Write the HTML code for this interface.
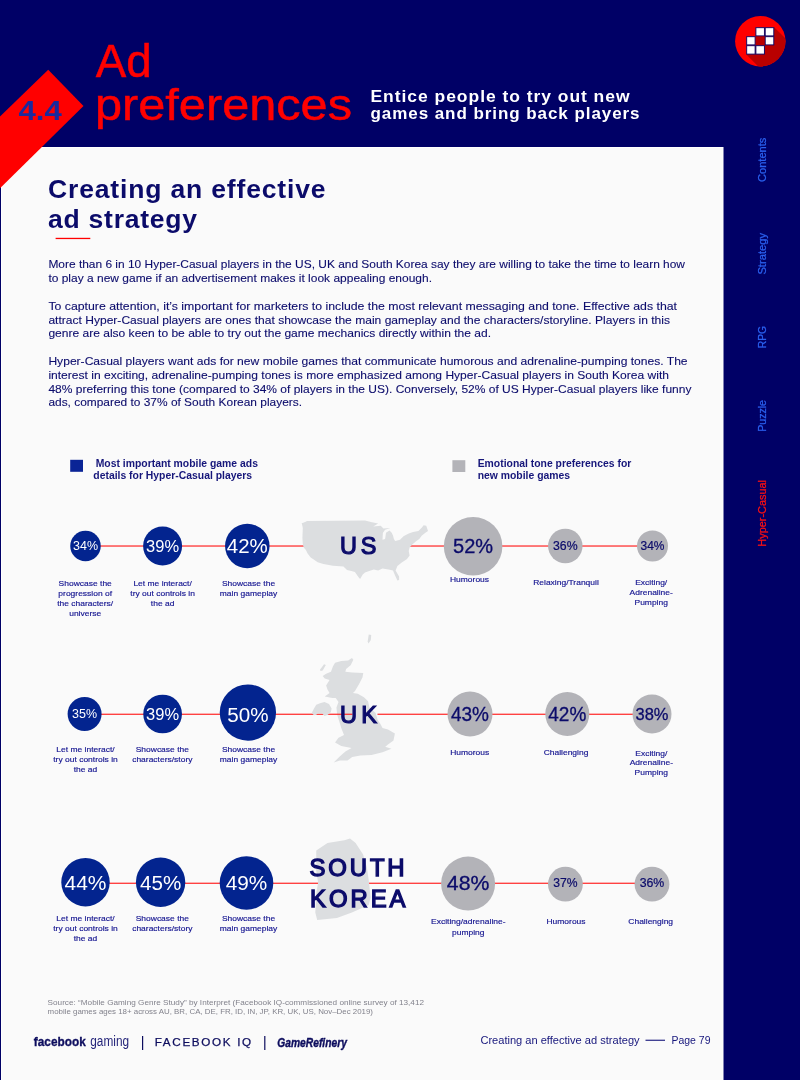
<!DOCTYPE html>
<html><head><meta charset="utf-8"><style>
html,body{margin:0;padding:0;width:800px;height:1080px;overflow:hidden;background:#000066}
svg{display:block;will-change:transform;font-family:"Liberation Sans",sans-serif}
</style></head><body>
<svg width="800" height="1080" viewBox="0 0 800 1080">
<rect x="0" y="0" width="800" height="1080" fill="#000066"/>
<rect x="1" y="147" width="722.5" height="940" fill="#ffffff"/>
<rect x="2" y="148" width="720.5" height="940" fill="#fafafa"/>
<polygon points="0,116.5 48.2,69.7 83.5,106 0,188.2" fill="#ff0000"/>
<text x="18.5" y="119.7" font-size="27.2" fill="#1a2a9e" font-weight="bold" textLength="43.3" lengthAdjust="spacingAndGlyphs">4.4</text>
<text x="95.8" y="76.5" font-size="46.5" fill="#ff0000" textLength="56" lengthAdjust="spacingAndGlyphs" stroke="#ff0000" stroke-width="0.5">Ad</text>
<text x="95" y="119.6" font-size="44.5" fill="#ff0000" textLength="257" lengthAdjust="spacingAndGlyphs" stroke="#ff0000" stroke-width="0.5">preferences</text>
<text x="370.5" y="102.2" font-size="16.3" fill="#ffffff" font-weight="bold" textLength="260" lengthAdjust="spacingAndGlyphs" letter-spacing="0.9">Entice people to try out new</text>
<text x="370.5" y="119.0" font-size="16.3" fill="#ffffff" font-weight="bold" textLength="270" lengthAdjust="spacingAndGlyphs" letter-spacing="0.9">games and bring back players</text>
<defs><clipPath id="lc"><circle cx="760.3" cy="41.2" r="25.2"/></clipPath></defs>
<circle cx="760.3" cy="41.2" r="25.2" fill="#ff0000"/>
<polygon clip-path="url(#lc)" points="774.2,27.3 834.2,87.3 806.3,114.5 746.3,54.5" fill="#b90000"/>
<rect x="755.5" y="36.3" width="9.299999999999955" height="9.0" fill="#b90000"/>
<rect x="755.9" y="27.7" width="8.499999999999954" height="8.199999999999996" fill="#ffffff" stroke="#000066" stroke-width="0.9"/>
<rect x="765.1999999999999" y="27.7" width="8.60000000000009" height="8.199999999999996" fill="#ffffff" stroke="#000066" stroke-width="0.9"/>
<rect x="746.6999999999999" y="36.699999999999996" width="8.400000000000045" height="8.2" fill="#ffffff" stroke="#000066" stroke-width="0.9"/>
<rect x="765.1999999999999" y="36.699999999999996" width="8.60000000000009" height="8.2" fill="#ffffff" stroke="#000066" stroke-width="0.9"/>
<rect x="746.6999999999999" y="45.699999999999996" width="8.400000000000045" height="8.400000000000002" fill="#ffffff" stroke="#000066" stroke-width="0.9"/>
<rect x="755.9" y="45.699999999999996" width="8.499999999999954" height="8.400000000000002" fill="#ffffff" stroke="#000066" stroke-width="0.9"/>
<text transform="translate(766,182) rotate(-90)" font-size="10" fill="#2a60f0" textLength="44.4" lengthAdjust="spacingAndGlyphs" stroke="#2a60f0" stroke-width="0.25">Contents</text>
<text transform="translate(766,274.6) rotate(-90)" font-size="10" fill="#2a60f0" textLength="41.6" lengthAdjust="spacingAndGlyphs" stroke="#2a60f0" stroke-width="0.25">Strategy</text>
<text transform="translate(766,348.2) rotate(-90)" font-size="10" fill="#2a60f0" textLength="22.2" lengthAdjust="spacingAndGlyphs" stroke="#2a60f0" stroke-width="0.25">RPG</text>
<text transform="translate(766,431.8) rotate(-90)" font-size="10" fill="#2a60f0" textLength="31.8" lengthAdjust="spacingAndGlyphs" stroke="#2a60f0" stroke-width="0.25">Puzzle</text>
<text transform="translate(766,546.7) rotate(-90)" font-size="10" fill="#ff1010" textLength="66.7" lengthAdjust="spacingAndGlyphs" stroke="#ff1010" stroke-width="0.25">Hyper-Casual</text>
<text x="48" y="197.5" font-size="26.5" fill="#0b0b6a" font-weight="bold" textLength="277.5" lengthAdjust="spacing">Creating an effective</text>
<text x="48" y="228.3" font-size="26.5" fill="#0b0b6a" font-weight="bold" textLength="149" lengthAdjust="spacing">ad strategy</text>
<rect x="55.6" y="237.8" width="34.7" height="1.3" fill="#ff0000"/>
<text x="48.4" y="268.4" font-size="11" fill="#0c0c6c" textLength="636.6" lengthAdjust="spacingAndGlyphs" stroke="#0c0c6c" stroke-width="0.1">More than 6 in 10 Hyper-Casual players in the US, UK and South Korea say they are willing to take the time to learn how</text>
<text x="48.4" y="282.2" font-size="11" fill="#0c0c6c" textLength="383.6" lengthAdjust="spacingAndGlyphs" stroke="#0c0c6c" stroke-width="0.1">to play a new game if an advertisement makes it look appealing enough.</text>
<text x="48.4" y="309.8" font-size="11" fill="#0c0c6c" textLength="628.6" lengthAdjust="spacingAndGlyphs" stroke="#0c0c6c" stroke-width="0.1">To capture attention, it’s important for marketers to include the most relevant messaging and tone. Effective ads that</text>
<text x="48.4" y="323.6" font-size="11" fill="#0c0c6c" textLength="621.6" lengthAdjust="spacingAndGlyphs" stroke="#0c0c6c" stroke-width="0.1">attract Hyper-Casual players are ones that showcase the main gameplay and the characters/storyline. Players in this</text>
<text x="48.4" y="337.4" font-size="11" fill="#0c0c6c" textLength="442.6" lengthAdjust="spacingAndGlyphs" stroke="#0c0c6c" stroke-width="0.1">genre are also keen to be able to try out the game mechanics directly within the ad.</text>
<text x="48.4" y="365.0" font-size="11" fill="#0c0c6c" textLength="639.2" lengthAdjust="spacingAndGlyphs" stroke="#0c0c6c" stroke-width="0.1">Hyper-Casual players want ads for new mobile games that communicate humorous and adrenaline-pumping tones. The</text>
<text x="48.4" y="378.8" font-size="11" fill="#0c0c6c" textLength="620.6" lengthAdjust="spacingAndGlyphs" stroke="#0c0c6c" stroke-width="0.1">interest in exciting, adrenaline-pumping tones is more emphasized among Hyper-Casual players in South Korea with</text>
<text x="48.4" y="392.6" font-size="11" fill="#0c0c6c" textLength="643.0" lengthAdjust="spacingAndGlyphs" stroke="#0c0c6c" stroke-width="0.1">48% preferring this tone (compared to 34% of players in the US). Conversely, 52% of US Hyper-Casual players like funny</text>
<text x="48.4" y="406.4" font-size="11" fill="#0c0c6c" textLength="253.6" lengthAdjust="spacingAndGlyphs" stroke="#0c0c6c" stroke-width="0.1">ads, compared to 37% of South Korean players.</text>
<rect x="70.2" y="459.8" width="12.8" height="12" fill="#0a2496"/>
<text x="95.7" y="466.5" font-size="10.4" fill="#16167a" font-weight="bold">Most important mobile game ads</text>
<text x="93.3" y="478.5" font-size="10.4" fill="#16167a" font-weight="bold">details for Hyper-Casual players</text>
<rect x="452.4" y="460.2" width="12.9" height="11.8" fill="#b3b3b8"/>
<text x="477.7" y="467.4" font-size="10.4" fill="#16167a" font-weight="bold">Emotional tone preferences for</text>
<text x="477.7" y="479.2" font-size="10.4" fill="#16167a" font-weight="bold">new mobile games</text>
<rect x="85" y="545.4" width="568" height="1.25" fill="#ff2e2e"/>
<polygon points="301.5,523.3 303.2,522.7 306.3,521.6 306.75,521 365,520.5 372,522.25 378.1,523.6 373.3,526.6 380.75,525.75 383.4,528.4 390.4,528 385.1,529.7 382.9,532.75 382.5,539.75 385.1,538.9 386,532.75 389.5,530.6 391.7,532.75 393,535.4 393.9,538.9 395.2,541 400,539.75 403.5,536.25 408.75,533.6 413.1,531.9 418.4,531 421.9,527.5 423.6,525.3 426.25,525.75 428,531 425.4,532.75 421.9,535.4 419.25,538.9 415.75,541.5 412.25,544.6 409.6,547.6 408.75,551.1 409.6,555.5 407,559 401.75,562.5 397.4,566 395.6,570.4 399.1,576.5 399.1,580 397.4,580.4 394.75,574.75 393,570.4 388.6,569.5 382.5,568.6 378.1,570.4 373.75,569.5 368.5,571.25 365,572.5 362.75,574.5 360.1,578.9 358.4,577.1 354.9,571.9 351.4,571 347,570 343.5,566.6 333,565.75 323.4,564 317.7,562.25 313.75,559.6 310.7,557.4 307.6,553.5 305.9,550 303.7,547.4 302.8,543.9 302.4,537.75 302.8,528.1 301.9,523.75" fill="#dcdee0"/>
<text x="340.0" y="553.7" font-size="23.4" fill="#0b0b6a" textLength="36.4" lengthAdjust="spacing" stroke="#0b0b6a" stroke-width="1.2">US</text>
<circle cx="85.5" cy="546" r="15.25" fill="#03248f"/>
<text x="85.5" y="550.35" font-size="11.93" fill="#ffffff" text-anchor="middle" textLength="25" lengthAdjust="spacingAndGlyphs">34%</text>
<circle cx="162.6" cy="546" r="19.5" fill="#03248f"/>
<text x="162.6" y="552.25" font-size="17.15" fill="#ffffff" text-anchor="middle" textLength="33" lengthAdjust="spacingAndGlyphs">39%</text>
<circle cx="247.3" cy="546" r="22.25" fill="#03248f"/>
<text x="247.3" y="553.1" font-size="19.48" fill="#ffffff" text-anchor="middle" textLength="41" lengthAdjust="spacingAndGlyphs">42%</text>
<circle cx="473.1" cy="546.2" r="29.3" fill="#b3b3b8"/>
<text x="473.1" y="553.3" font-size="19.48" fill="#0b0b6a" text-anchor="middle" textLength="40" lengthAdjust="spacingAndGlyphs" stroke="#0b0b6a" stroke-width="0.3">52%</text>
<circle cx="565.3" cy="546" r="17.25" fill="#b3b3b8"/>
<text x="565.3" y="550.35" font-size="11.93" fill="#0b0b6a" text-anchor="middle" textLength="24.6" lengthAdjust="spacingAndGlyphs" stroke="#0b0b6a" stroke-width="0.2">36%</text>
<circle cx="652.5" cy="546" r="15.5" fill="#b3b3b8"/>
<text x="652.5" y="550.35" font-size="11.93" fill="#0b0b6a" text-anchor="middle" textLength="24" lengthAdjust="spacingAndGlyphs" stroke="#0b0b6a" stroke-width="0.2">34%</text>
<g transform="translate(85.2,0) scale(1.06,1)">
<text x="0" y="585.8" font-size="8.0" fill="#141490" text-anchor="middle" stroke="#141490" stroke-width="0.16">Showcase the</text>
<text x="0" y="595.8" font-size="8.0" fill="#141490" text-anchor="middle" stroke="#141490" stroke-width="0.16">progression of</text>
<text x="0" y="605.8" font-size="8.0" fill="#141490" text-anchor="middle" stroke="#141490" stroke-width="0.16">the characters/</text>
<text x="0" y="615.8" font-size="8.0" fill="#141490" text-anchor="middle" stroke="#141490" stroke-width="0.16">universe</text>
</g>
<g transform="translate(162.6,0) scale(1.06,1)">
<text x="0" y="585.8" font-size="8.0" fill="#141490" text-anchor="middle" stroke="#141490" stroke-width="0.16">Let me interact/</text>
<text x="0" y="595.8" font-size="8.0" fill="#141490" text-anchor="middle" stroke="#141490" stroke-width="0.16">try out controls in</text>
<text x="0" y="605.8" font-size="8.0" fill="#141490" text-anchor="middle" stroke="#141490" stroke-width="0.16">the ad</text>
</g>
<g transform="translate(248.5,0) scale(1.06,1)">
<text x="0" y="585.8" font-size="8.0" fill="#141490" text-anchor="middle" stroke="#141490" stroke-width="0.16">Showcase the</text>
<text x="0" y="595.8" font-size="8.0" fill="#141490" text-anchor="middle" stroke="#141490" stroke-width="0.16">main gameplay</text>
</g>
<g transform="translate(469.5,0) scale(1.06,1)">
<text x="0" y="582.3" font-size="8.0" fill="#141490" text-anchor="middle" stroke="#141490" stroke-width="0.16">Humorous</text>
</g>
<g transform="translate(566,0) scale(1.06,1)">
<text x="0" y="585.2" font-size="8.0" fill="#141490" text-anchor="middle" stroke="#141490" stroke-width="0.16">Relaxing/Tranquil</text>
</g>
<g transform="translate(651.2,0) scale(1.06,1)">
<text x="0" y="585.2" font-size="8.0" fill="#141490" text-anchor="middle" stroke="#141490" stroke-width="0.16">Exciting/</text>
<text x="0" y="595.0" font-size="8.0" fill="#141490" text-anchor="middle" stroke="#141490" stroke-width="0.16">Adrenaline-</text>
<text x="0" y="604.8" font-size="8.0" fill="#141490" text-anchor="middle" stroke="#141490" stroke-width="0.16">Pumping</text>
</g>
<polygon points="335.06,662.81 341.25,661.02 348.12,660.48 351.98,658.0 353.35,659.65 350.6,665.15 346.06,669.0 345.38,671.75 352.25,672.44 363.25,673.12 362.56,677.25 359.12,684.12 355.0,691.0 352.94,693.06 357.75,693.75 363.94,697.19 368.06,701.31 369.44,707.5 375.62,713.0 377.69,719.88 380.44,724.0 382.5,728.12 388.0,729.5 394.88,733.62 393.5,740.5 388.0,744.62 385.25,746.69 391.44,748.75 382.5,752.19 371.5,754.94 360.5,755.62 352.25,757.0 347.44,760.44 339.88,760.44 333.69,762.5 339.19,757.0 345.38,751.5 351.56,748.06 341.25,746.0 335.06,742.56 338.5,737.75 344.0,735.0 341.25,728.12 339.19,721.25 337.12,714.38 336.44,707.5 338.5,702.0 335.75,697.88 332.31,697.88 324.75,696.5 329.56,693.06 327.5,689.62 326.12,685.5 329.56,680.0 324.75,678.62 322.69,675.88 326.12,673.81 330.94,671.75 333.0,666.25" fill="#dcdee0"/>
<polygon points="368.75,634.62 371.23,634.9 370.81,640.12 368.48,643.56 367.65,641.5" fill="#dcdee0"/>
<polygon points="319.94,669.69 324.06,664.19 325.85,664.88 322.69,670.38 320.62,671.06" fill="#dcdee0"/>
<rect x="85" y="713.65" width="267.5" height="1.25" fill="#ff2e2e"/>
<rect x="377.5" y="713.65" width="275.5" height="1.25" fill="#ff2e2e"/>
<polygon points="311.75,713.0 314.0,715.25 316.25,714.65 317.75,713.38 322.25,713.6 324.5,716.0 327.5,714.88 330.88,712.25 331.62,708.5 329.0,704.0 324.5,702.12 320.0,703.25 316.25,704.75 314.0,708.5" fill="#dcdee0"/>
<text x="339.9" y="722.55" font-size="23.6" fill="#0b0b6a" textLength="37.2" lengthAdjust="spacing" stroke="#0b0b6a" stroke-width="1.2">UK</text>
<circle cx="84.6" cy="714" r="17.0" fill="#03248f"/>
<text x="84.6" y="718.35" font-size="11.93" fill="#ffffff" text-anchor="middle" textLength="25" lengthAdjust="spacingAndGlyphs">35%</text>
<circle cx="162.6" cy="714" r="19.35" fill="#03248f"/>
<text x="162.6" y="720.25" font-size="17.15" fill="#ffffff" text-anchor="middle" textLength="33" lengthAdjust="spacingAndGlyphs">39%</text>
<circle cx="247.9" cy="712.6" r="28.15" fill="#03248f"/>
<text x="247.9" y="721.5" font-size="19.48" fill="#ffffff" text-anchor="middle" textLength="41.3" lengthAdjust="spacingAndGlyphs">50%</text>
<circle cx="470" cy="714" r="22.5" fill="#b3b3b8"/>
<text x="470" y="721.1" font-size="19.48" fill="#0b0b6a" text-anchor="middle" textLength="38" lengthAdjust="spacingAndGlyphs" stroke="#0b0b6a" stroke-width="0.3">43%</text>
<circle cx="567.3" cy="714" r="22.0" fill="#b3b3b8"/>
<text x="567.3" y="721.1" font-size="19.48" fill="#0b0b6a" text-anchor="middle" textLength="38" lengthAdjust="spacingAndGlyphs" stroke="#0b0b6a" stroke-width="0.3">42%</text>
<circle cx="652" cy="714" r="19.5" fill="#b3b3b8"/>
<text x="652" y="720.25" font-size="17.15" fill="#0b0b6a" text-anchor="middle" textLength="33" lengthAdjust="spacingAndGlyphs" stroke="#0b0b6a" stroke-width="0.3">38%</text>
<g transform="translate(85.5,0) scale(1.06,1)">
<text x="0" y="752.2" font-size="8.0" fill="#141490" text-anchor="middle" stroke="#141490" stroke-width="0.16">Let me interact/</text>
<text x="0" y="762.2" font-size="8.0" fill="#141490" text-anchor="middle" stroke="#141490" stroke-width="0.16">try out controls in</text>
<text x="0" y="772.2" font-size="8.0" fill="#141490" text-anchor="middle" stroke="#141490" stroke-width="0.16">the ad</text>
</g>
<g transform="translate(162.3,0) scale(1.06,1)">
<text x="0" y="752.2" font-size="8.0" fill="#141490" text-anchor="middle" stroke="#141490" stroke-width="0.16">Showcase the</text>
<text x="0" y="762.2" font-size="8.0" fill="#141490" text-anchor="middle" stroke="#141490" stroke-width="0.16">characters/story</text>
</g>
<g transform="translate(248.5,0) scale(1.06,1)">
<text x="0" y="752.2" font-size="8.0" fill="#141490" text-anchor="middle" stroke="#141490" stroke-width="0.16">Showcase the</text>
<text x="0" y="762.2" font-size="8.0" fill="#141490" text-anchor="middle" stroke="#141490" stroke-width="0.16">main gameplay</text>
</g>
<g transform="translate(469.7,0) scale(1.06,1)">
<text x="0" y="755.0" font-size="8.0" fill="#141490" text-anchor="middle" stroke="#141490" stroke-width="0.16">Humorous</text>
</g>
<g transform="translate(566,0) scale(1.06,1)">
<text x="0" y="755.5" font-size="8.0" fill="#141490" text-anchor="middle" stroke="#141490" stroke-width="0.16">Challenging</text>
</g>
<g transform="translate(651.3,0) scale(1.06,1)">
<text x="0" y="755.7" font-size="8.0" fill="#141490" text-anchor="middle" stroke="#141490" stroke-width="0.16">Exciting/</text>
<text x="0" y="765.5" font-size="8.0" fill="#141490" text-anchor="middle" stroke="#141490" stroke-width="0.16">Adrenaline-</text>
<text x="0" y="775.3" font-size="8.0" fill="#141490" text-anchor="middle" stroke="#141490" stroke-width="0.16">Pumping</text>
</g>
<rect x="85" y="882.65" width="568" height="1.25" fill="#ff2e2e"/>
<polygon points="316.25,850.6 327.5,843.1 344.4,840.3 350,838.4 355.6,843.1 363.1,854.4 366.9,867.5 368.75,880.6 370.6,897.5 368.75,905 351.9,912.5 336.9,918.1 317.2,920 315.3,912.5 316.25,893.75 318.1,882.5 316.25,871.25" fill="#dcdee0"/>
<text x="309.6" y="875.8" font-size="23.9" fill="#0b0b6a" textLength="95" lengthAdjust="spacing" stroke="#0b0b6a" stroke-width="1.35">SOUTH</text>
<text x="310" y="906.8" font-size="23.9" fill="#0b0b6a" textLength="95.5" lengthAdjust="spacing" stroke="#0b0b6a" stroke-width="1.35">KOREA</text>
<circle cx="85.5" cy="882.2" r="24.2" fill="#03248f"/>
<text x="85.5" y="889.7" font-size="19.48" fill="#ffffff" text-anchor="middle" textLength="42" lengthAdjust="spacingAndGlyphs">44%</text>
<circle cx="160.6" cy="882.3" r="24.7" fill="#03248f"/>
<text x="160.6" y="889.7" font-size="19.48" fill="#ffffff" text-anchor="middle" textLength="41.3" lengthAdjust="spacingAndGlyphs">45%</text>
<circle cx="246.5" cy="883" r="26.8" fill="#03248f"/>
<text x="246.5" y="890.1" font-size="19.48" fill="#ffffff" text-anchor="middle" textLength="41.6" lengthAdjust="spacingAndGlyphs">49%</text>
<circle cx="468.1" cy="883.6" r="27.0" fill="#b3b3b8"/>
<text x="468.1" y="890.3" font-size="19.48" fill="#0b0b6a" text-anchor="middle" textLength="42.5" lengthAdjust="spacingAndGlyphs" stroke="#0b0b6a" stroke-width="0.3">48%</text>
<circle cx="565.4" cy="884.2" r="17.4" fill="#b3b3b8"/>
<text x="565.4" y="887.05" font-size="11.93" fill="#0b0b6a" text-anchor="middle" textLength="24.3" lengthAdjust="spacingAndGlyphs" stroke="#0b0b6a" stroke-width="0.2">37%</text>
<circle cx="652" cy="884.2" r="17.4" fill="#b3b3b8"/>
<text x="652" y="887.05" font-size="11.93" fill="#0b0b6a" text-anchor="middle" textLength="24.7" lengthAdjust="spacingAndGlyphs" stroke="#0b0b6a" stroke-width="0.2">36%</text>
<g transform="translate(85.5,0) scale(1.06,1)">
<text x="0" y="921.4" font-size="8.0" fill="#141490" text-anchor="middle" stroke="#141490" stroke-width="0.16">Let me interact/</text>
<text x="0" y="931.4" font-size="8.0" fill="#141490" text-anchor="middle" stroke="#141490" stroke-width="0.16">try out controls in</text>
<text x="0" y="941.4" font-size="8.0" fill="#141490" text-anchor="middle" stroke="#141490" stroke-width="0.16">the ad</text>
</g>
<g transform="translate(162.3,0) scale(1.06,1)">
<text x="0" y="921.4" font-size="8.0" fill="#141490" text-anchor="middle" stroke="#141490" stroke-width="0.16">Showcase the</text>
<text x="0" y="931.4" font-size="8.0" fill="#141490" text-anchor="middle" stroke="#141490" stroke-width="0.16">characters/story</text>
</g>
<g transform="translate(248.5,0) scale(1.06,1)">
<text x="0" y="921.4" font-size="8.0" fill="#141490" text-anchor="middle" stroke="#141490" stroke-width="0.16">Showcase the</text>
<text x="0" y="931.4" font-size="8.0" fill="#141490" text-anchor="middle" stroke="#141490" stroke-width="0.16">main gameplay</text>
</g>
<g transform="translate(468.3,0) scale(1.06,1)">
<text x="0" y="924.45" font-size="8.0" fill="#141490" text-anchor="middle" stroke="#141490" stroke-width="0.16">Exciting/adrenaline-</text>
<text x="0" y="934.95" font-size="8.0" fill="#141490" text-anchor="middle" stroke="#141490" stroke-width="0.16">pumping</text>
</g>
<g transform="translate(566,0) scale(1.06,1)">
<text x="0" y="924.45" font-size="8.0" fill="#141490" text-anchor="middle" stroke="#141490" stroke-width="0.16">Humorous</text>
</g>
<g transform="translate(650.7,0) scale(1.06,1)">
<text x="0" y="924.45" font-size="8.0" fill="#141490" text-anchor="middle" stroke="#141490" stroke-width="0.16">Challenging</text>
</g>
<text x="47.6" y="1004.6" font-size="7.9" fill="#82828c" textLength="376.4" lengthAdjust="spacingAndGlyphs">Source: “Mobile Gaming Genre Study” by Interpret (Facebook IQ-commissioned online survey of 13,412</text>
<text x="47.6" y="1013.6" font-size="7.9" fill="#82828c" textLength="325.4" lengthAdjust="spacingAndGlyphs">mobile games ages 18+ across AU, BR, CA, DE, FR, ID, IN, JP, KR, UK, US, Nov–Dec 2019)</text>
<text x="33.85" y="1046.2" font-size="13.6" fill="#0d0d5e" font-weight="bold" textLength="51.9" lengthAdjust="spacingAndGlyphs" stroke="#0d0d5e" stroke-width="0.35">facebook</text>
<text x="90.3" y="1046.2" font-size="13.8" fill="#25257a" textLength="38.8" lengthAdjust="spacingAndGlyphs">gaming</text>
<rect x="142" y="1036" width="1.2" height="14" fill="#0d0d5e"/>
<text x="154.7" y="1046" font-size="11.2" fill="#0d0d5e" textLength="98.2" lengthAdjust="spacingAndGlyphs" letter-spacing="1.6" stroke="#0d0d5e" stroke-width="0.25">FACEBOOK IQ</text>
<rect x="264.2" y="1036" width="1.2" height="14" fill="#0d0d5e"/>
<text x="277.3" y="1046.5" font-size="12.5" fill="#0d0d5e" font-weight="bold" textLength="69.6" lengthAdjust="spacingAndGlyphs" font-style="italic" stroke="#0d0d5e" stroke-width="0.4">GameRefinery</text>
<text x="480.4" y="1043.8" font-size="11" fill="#16167c" textLength="159.2" lengthAdjust="spacingAndGlyphs">Creating an effective ad strategy</text>
<rect x="645.5" y="1039.7" width="19.5" height="1.1" fill="#16167c"/>
<text x="671.5" y="1043.8" font-size="11" fill="#16167c" textLength="39" lengthAdjust="spacingAndGlyphs">Page 79</text>
</svg>
</body></html>
